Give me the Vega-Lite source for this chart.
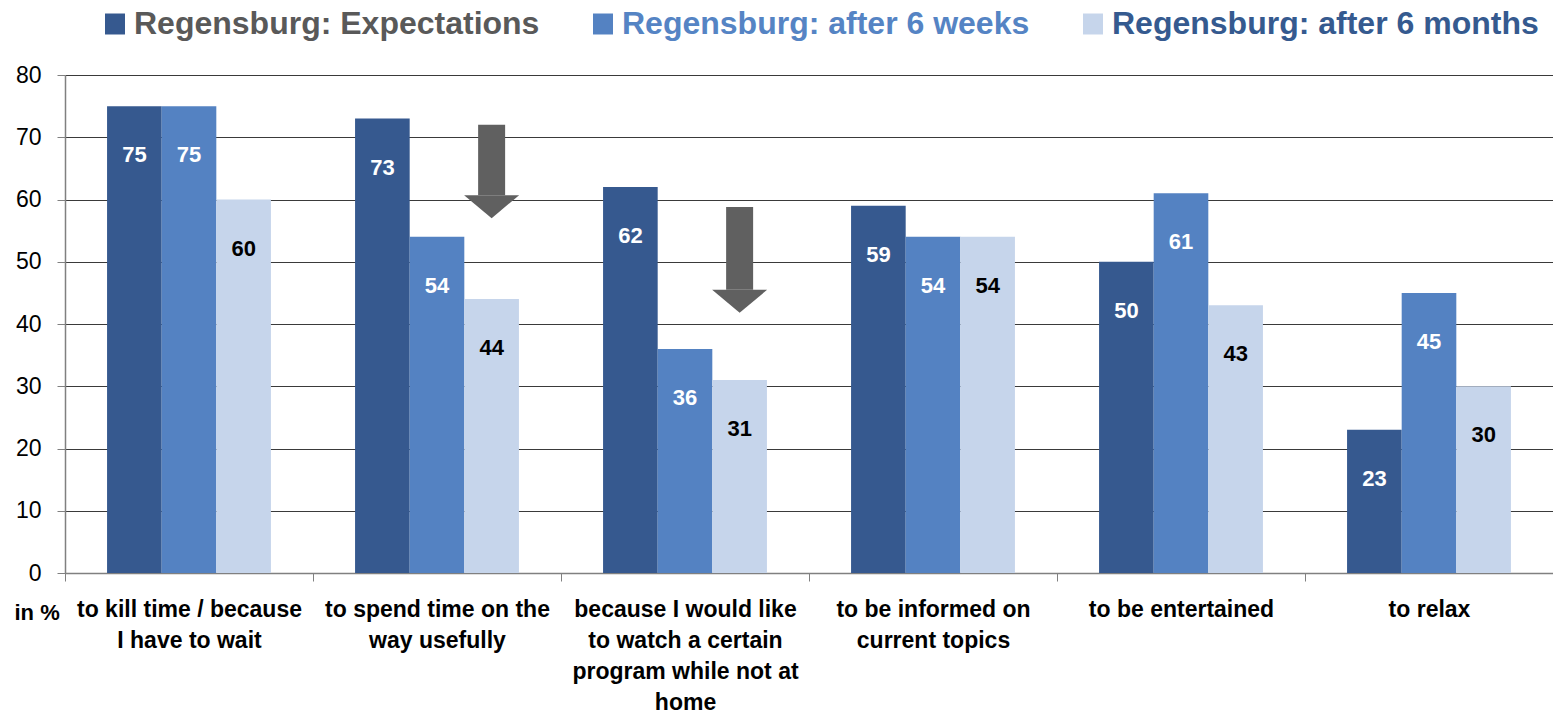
{
  "$schema": "https://vega.github.io/schema/vega-lite/v6.json",
  "width": 1488,
  "height": 498,
  "autosize": {"type": "none"},
  "padding": {"left": 65, "top": 75, "right": 0, "bottom": 142},
  "background": "white",
  "config": {
    "view": {"stroke": null},
    "font": "Liberation Sans"
  },
  "datasets": {
    "main": [
      {"category": "to kill time / because|I have to wait", "series": "Regensburg: Expectations", "value": 75},
      {"category": "to kill time / because|I have to wait", "series": "Regensburg: after 6 weeks", "value": 75},
      {"category": "to kill time / because|I have to wait", "series": "Regensburg: after 6 months", "value": 60},
      {"category": "to spend time on the|way usefully", "series": "Regensburg: Expectations", "value": 73},
      {"category": "to spend time on the|way usefully", "series": "Regensburg: after 6 weeks", "value": 54},
      {"category": "to spend time on the|way usefully", "series": "Regensburg: after 6 months", "value": 44},
      {"category": "because I would like|to watch a certain|program while not at|home", "series": "Regensburg: Expectations", "value": 62},
      {"category": "because I would like|to watch a certain|program while not at|home", "series": "Regensburg: after 6 weeks", "value": 36},
      {"category": "because I would like|to watch a certain|program while not at|home", "series": "Regensburg: after 6 months", "value": 31},
      {"category": "to be informed on|current topics", "series": "Regensburg: Expectations", "value": 59},
      {"category": "to be informed on|current topics", "series": "Regensburg: after 6 weeks", "value": 54},
      {"category": "to be informed on|current topics", "series": "Regensburg: after 6 months", "value": 54},
      {"category": "to be entertained", "series": "Regensburg: Expectations", "value": 50},
      {"category": "to be entertained", "series": "Regensburg: after 6 weeks", "value": 61},
      {"category": "to be entertained", "series": "Regensburg: after 6 months", "value": 43},
      {"category": "to relax", "series": "Regensburg: Expectations", "value": 23},
      {"category": "to relax", "series": "Regensburg: after 6 weeks", "value": 45},
      {"category": "to relax", "series": "Regensburg: after 6 months", "value": 30}
    ],
    "arrows": [
      {"category": "to spend time on the|way usefully", "series": "Regensburg: after 6 months", "top": 72, "headTop": 60.7, "tip": 57},
      {"category": "because I would like|to watch a certain|program while not at|home", "series": "Regensburg: after 6 months", "top": 58.8, "headTop": 45.5, "tip": 41}
    ]
  },
  "encoding": {
    "x": {
      "field": "category",
      "type": "nominal",
      "sort": null,
      "scale": {"paddingInner": 0, "paddingOuter": 0},
      "axis": {
        "title": null,
        "labelAngle": 0,
        "labelExpr": "split(datum.label, '|')",
        "labelFont": "Liberation Sans",
        "labelFontSize": 23,
        "labelFontWeight": "bold",
        "labelColor": "#000000",
        "labelLineHeight": 31,
        "labelLimit": 0,
        "labelPadding": 17,
        "labelBaseline": "top",
        "tickBand": "extent",
        "tickSize": 8,
        "tickColor": "#808080",
        "domainColor": "#808080",
        "domainWidth": 1.5,
        "grid": false
      }
    },
    "xOffset": {
      "field": "series",
      "type": "nominal",
      "scale": {
        "domain": ["Regensburg: Expectations", "Regensburg: after 6 weeks", "Regensburg: after 6 months"],
        "paddingInner": 0,
        "paddingOuter": 0.77
      }
    }
  },
  "layer": [
    {
      "data": {"name": "main"},
      "mark": {"type": "bar"},
      "encoding": {
        "y": {
          "field": "value",
          "type": "quantitative",
          "scale": {"domain": [0, 80], "nice": false},
          "axis": {
            "values": [0, 10, 20, 30, 40, 50, 60, 70, 80],
            "title": "in %",
            "titleAngle": 0,
            "titleX": -51,
            "titleY": 537,
            "titleAlign": "left",
            "titleBaseline": "middle",
            "titleFont": "Liberation Sans",
            "titleFontSize": 22,
            "titleFontWeight": "bold",
            "titleColor": "#000000",
            "labelFont": "Liberation Sans",
            "labelFontSize": 23,
            "labelColor": "#000000",
            "labelPadding": 16,
            "tickSize": 8,
            "tickColor": "#808080",
            "domainColor": "#808080",
            "domainWidth": 1.5,
            "grid": true,
            "gridColor": "#3a3a3a",
            "gridWidth": 1.2
          }
        },
        "color": {
          "field": "series",
          "type": "nominal",
          "scale": {
            "domain": ["Regensburg: Expectations", "Regensburg: after 6 weeks", "Regensburg: after 6 months"],
            "range": ["#36598f", "#5482c2", "#c6d5eb"]
          },
          "legend": {
            "title": null,
            "orient": "none",
            "direction": "horizontal",
            "legendX": 34,
            "legendY": -67,
            "symbolType": "M-0.95,-1H0.95V1H-0.95Z",
            "symbolSize": 441,
            "symbolStrokeWidth": 0,
            "symbolOpacity": 1,
            "labelFont": "Liberation Sans",
            "labelFontSize": 32,
            "labelFontWeight": "bold",
            "labelOffset": 3,
            "labelLimit": 0,
            "columnPadding": 47,
            "encode": {
              "symbols": {
                "update": {
                  "fill": {"signal": "datum.value === 'Regensburg: Expectations' ? '#36598f' : datum.value === 'Regensburg: after 6 weeks' ? '#5482c2' : '#c6d5eb'"},
                  "strokeWidth": {"value": 0}
                }
              },
              "labels": {
                "update": {
                  "fill": {"signal": "datum.value === 'Regensburg: Expectations' ? '#595959' : datum.value === 'Regensburg: after 6 weeks' ? '#5584c4' : '#355a8f'"}
                }
              }
            }
          }
        }
      }
    },
    {
      "data": {"name": "main"},
      "mark": {"type": "text", "font": "Liberation Sans", "fontSize": 22, "fontWeight": "bold", "baseline": "middle", "align": "center", "dy": 49},
      "encoding": {
        "y": {"field": "value", "type": "quantitative"},
        "text": {"field": "value", "type": "quantitative"},
        "color": {
          "condition": {"test": "datum.series === 'Regensburg: after 6 months'", "value": "#000000"},
          "value": "#ffffff"
        }
      }
    },
    {
      "data": {"name": "arrows"},
      "mark": {"type": "rule", "strokeWidth": 27, "color": "#606060", "strokeCap": "butt"},
      "encoding": {
        "y": {"field": "top", "type": "quantitative"},
        "y2": {"field": "headTop"}
      }
    },
    {
      "data": {"name": "arrows"},
      "mark": {"type": "point", "shape": "M-1,0L1,0L0,0.84Z", "size": 3025, "filled": true, "color": "#606060", "opacity": 1},
      "encoding": {
        "y": {"field": "headTop", "type": "quantitative"}
      }
    }
  ]
}
